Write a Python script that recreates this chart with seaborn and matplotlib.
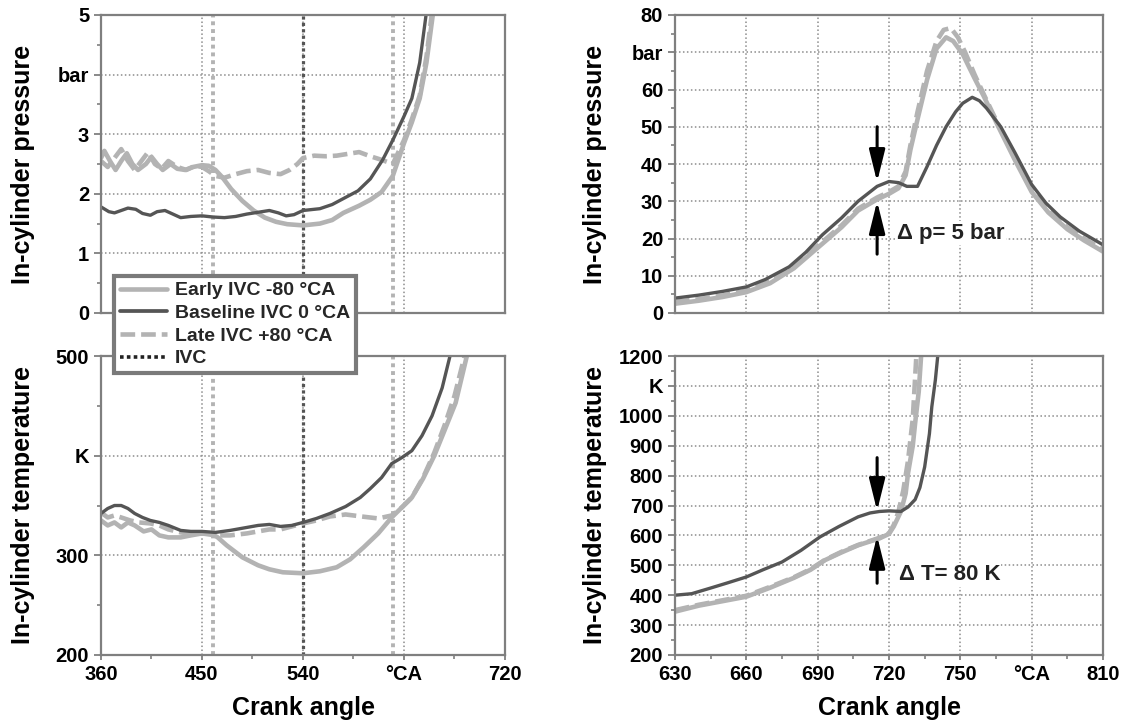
import matplotlib
matplotlib.use('Agg')
import matplotlib.pyplot as plt
import seaborn as sns
from matplotlib.ticker import FixedLocator, MultipleLocator
from matplotlib.lines import Line2D

sns.set_theme(style='white')
plt.rcParams['font.family'] = ['Liberation Sans', 'DejaVu Sans']
plt.rcParams['font.weight'] = 'bold'

# ---------------- data ----------------
series_labels = ["Early IVC -80 °CA", "Baseline IVC 0 °CA", "Late IVC +80 °CA", "IVC"]
ivc_angles = [460, 540, 620]

# top-left: in-cylinder pressure (bar), gas exchange
early_p_x = [360, 363, 368, 373, 378, 383, 388, 393, 400, 405, 410, 415, 422, 428, 435, 442, 450, 456, 462, 468,
             476, 486, 496, 506, 516, 526, 540, 555, 566, 576, 590, 600, 610, 620, 630, 637, 644, 650, 656]
early_p_y = [2.6, 2.72, 2.55, 2.4, 2.55, 2.68, 2.5, 2.4, 2.5, 2.62, 2.5, 2.4, 2.5, 2.42, 2.4, 2.45, 2.48, 2.47, 2.4, 2.28,
             2.08, 1.88, 1.72, 1.6, 1.53, 1.49, 1.47, 1.5, 1.56, 1.68, 1.8, 1.9, 2.03, 2.3, 2.85, 3.2, 3.6, 4.2, 5.05]
base_p_x = [360, 367, 372, 378, 384, 391, 397, 404, 410, 417, 424, 431, 440, 450, 460, 470, 480, 490, 500, 510,
            518, 525, 532, 540, 555, 566, 576, 589, 600, 611, 620, 630, 637, 644, 650]
base_p_y = [1.78, 1.7, 1.68, 1.72, 1.76, 1.74, 1.67, 1.64, 1.7, 1.72, 1.66, 1.6, 1.62, 1.63, 1.61, 1.6, 1.62, 1.66, 1.69, 1.72,
            1.68, 1.63, 1.65, 1.72, 1.75, 1.82, 1.92, 2.05, 2.25, 2.57, 2.9, 3.3, 3.6, 4.2, 5.05]
late_p_x = [360, 366, 372, 378, 384, 390, 396, 402, 408, 414, 420, 428, 436, 444, 450, 456, 462, 470, 480, 490,
            500, 510, 520, 528, 535, 540, 550, 560, 570, 580, 590, 600, 610, 620, 630, 637, 644, 650, 655]
late_p_y = [2.55, 2.45, 2.6, 2.75, 2.55, 2.4, 2.55, 2.7, 2.5, 2.42, 2.55, 2.45, 2.4, 2.47, 2.45, 2.38, 2.3, 2.27, 2.33, 2.38,
            2.4, 2.35, 2.33, 2.4, 2.5, 2.6, 2.64, 2.63, 2.64, 2.67, 2.7, 2.63, 2.57, 2.5, 2.9, 3.25, 3.65, 4.3, 5.05]

# bottom-left: in-cylinder temperature (K), gas exchange
early_t_x = [360, 366, 372, 378, 384, 390, 398, 405, 412, 420, 431, 440, 450, 458, 464, 472, 486, 500, 510, 522,
             540, 555, 570, 582, 594, 607, 619, 628, 637, 647, 657, 666, 676, 686]
early_t_y = [335, 330, 333, 328, 333, 330, 324, 326, 320, 318, 318, 320, 322, 322, 318, 310, 298, 290, 286, 283,
             282, 284, 288, 296, 308, 322, 338, 348, 358, 377, 400, 425, 453, 500]
base_t_x = [360, 366, 372, 378, 384, 390, 397, 404, 412, 420, 431, 440, 450, 462, 475, 490, 500, 510, 520, 530,
            540, 552, 564, 578, 591, 600, 610, 619, 628, 637, 646, 655, 664, 671]
base_t_y = [342, 347, 350, 350, 347, 342, 338, 335, 333, 330, 325, 324, 324, 323, 325, 328, 330, 331, 329, 330,
            333, 337, 342, 349, 358, 367, 378, 392, 398, 405, 420, 440, 468, 500]
late_t_x = [360, 366, 372, 378, 386, 394, 404, 412, 420, 431, 440, 450, 462, 475, 490, 500, 510, 520, 530, 540,
            552, 564, 578, 592, 607, 619, 628, 637, 647, 657, 666, 675, 684]
late_t_y = [343, 338, 340, 338, 335, 333, 332, 330, 326, 323, 322, 322, 320, 320, 322, 324, 326, 326, 329, 332,
            335, 339, 341, 339, 337, 340, 348, 358, 378, 403, 430, 460, 500]

# top-right: in-cylinder pressure (bar), combustion
early_pc_x = [630, 640, 650, 660, 670, 680, 690, 700, 707, 715, 720, 724, 727, 729, 732, 736, 740, 744, 747, 751,
              756, 760, 766, 773, 780, 787, 795, 802, 810]
early_pc_y = [2.5, 3.3, 4.3, 5.6, 8.0, 12.0, 17.5, 23.0, 27.5, 30.5, 32.0, 33.5, 37.0, 43.8, 52.0, 62.6, 71.0, 74.0, 73.0, 69.5,
              63.0, 58.0, 50.0, 41.0, 32.5, 27.0, 22.5, 19.5, 16.5]
base_pc_x = [630, 640, 650, 660, 668, 678, 685, 692, 700, 707, 715, 720, 724, 727.5, 732, 736, 740, 744, 748, 751,
             755, 758, 761, 767, 773, 780, 786, 792, 800, 810]
base_pc_y = [4.0, 4.8, 5.8, 7.0, 9.0, 12.4, 16.3, 21.0, 25.5, 30.0, 34.0, 35.3, 35.0, 34.0, 34.0, 39.3, 45.0, 50.0, 54.0, 56.3,
             57.9, 57.0, 55.0, 50.0, 43.0, 34.5, 29.5, 25.8, 22.0, 18.3]
late_pc_x = [630, 640, 650, 660, 670, 680, 690, 700, 707, 715, 720, 724, 727, 729, 732, 736, 740, 743, 746, 749,
             752, 756, 760, 766, 773, 780, 787, 795, 802, 810]
late_pc_y = [3.0, 3.7, 4.7, 6.0, 8.5, 12.5, 18.0, 23.5, 28.0, 31.0, 32.5, 34.0, 38.0, 45.0, 54.0, 65.0, 73.0, 76.0, 76.5, 74.0,
             70.0, 64.0, 58.5, 50.5, 41.5, 33.0, 27.5, 23.0, 20.0, 17.0]

# bottom-right: in-cylinder temperature (K), combustion
early_tc_x = [630, 640, 650, 660, 670, 680, 687, 693, 700, 707, 716, 720, 722, 725, 727, 728, 730, 731, 732.5, 733.5]
early_tc_y = [345, 365, 380, 395, 425, 458, 485, 517, 543, 567, 590, 605, 630, 680, 740, 808, 900, 976, 1080, 1200]
base_tc_x = [630, 637, 645, 652, 660, 667, 675, 683, 691, 699, 707, 712, 716, 720, 725, 728, 731, 733, 735, 737,
             738, 739.5, 740.5]
base_tc_y = [400, 405, 424, 441, 461, 485, 511, 550, 595, 630, 662, 675, 680, 682, 680, 695, 720, 760, 829, 940,
             1030, 1120, 1200]
late_tc_x = [630, 640, 650, 660, 670, 680, 687, 693, 700, 707, 716, 720, 722, 724, 726, 728, 730, 731.5]
late_tc_y = [350, 368, 383, 398, 428, 460, 487, 518, 545, 568, 592, 607, 635, 680, 750, 850, 990, 1200]

# annotations
dp_arrow_x = 715
dp_arrow_top = [50, 35.2]
dp_arrow_bot = [15.8, 30.0]
dt_arrow_top = [860, 682]
dt_arrow_bot = [440, 598]
dp_text = "Δ p= 5 bar"
dt_text = "Δ T= 80 K"

# ---------------- style ----------------
LIGHT = '#b3b3b3'
DARK = '#555555'
SPINE = '#7f7f7f'
GRID = '#8c8c8c'
LW_L = 3.3
LW_D = 2.4
DASH = (0, (3.2, 1.3))
TICK_FS = 14.5
LABEL_FS = 18

fig = plt.figure(figsize=(11.26, 7.23), dpi=100)
W, H = 1126, 723


def add_ax(l, r, t, b):
    return fig.add_axes([l / W, 1 - b / H, (r - l) / W, (b - t) / H])


ax_tl = add_ax(101, 505, 15, 313)
ax_bl = add_ax(101, 505, 356, 655)
ax_tr = add_ax(675, 1103, 15, 313)
ax_br = add_ax(675, 1103, 356, 655)


def draw(ax, x, y, kind):
    if kind == 'early':
        sns.lineplot(x=x, y=y, ax=ax, color=LIGHT, linewidth=LW_L, estimator=None, sort=False, legend=False)
    elif kind == 'base':
        sns.lineplot(x=x, y=y, ax=ax, color=DARK, linewidth=LW_D, estimator=None, sort=False, legend=False)
    else:
        sns.lineplot(x=x, y=y, ax=ax, color=LIGHT, linewidth=LW_L, estimator=None, sort=False, legend=False)
        ax.lines[-1].set_linestyle(DASH)


def style(ax, xlim, xmajor, xminor, xlabels, ylim, ymajor, yminor, ylabels, ylabel, xlabel, ylab_x):
    ax.set_xlim(*xlim)
    ax.set_ylim(*ylim)
    ax.xaxis.set_major_locator(FixedLocator(xmajor))
    ax.xaxis.set_minor_locator(MultipleLocator(xminor))
    ax.yaxis.set_major_locator(FixedLocator(ymajor))
    ax.yaxis.set_minor_locator(MultipleLocator(yminor))
    ax.set_yticklabels(ylabels)
    ax.grid(True, which='major', linestyle=(0, (1, 1.6)), color=GRID, linewidth=1.1)
    for s in ax.spines.values():
        s.set_color(SPINE)
        s.set_linewidth(1.6)
        s.set_zorder(5)
    ax.tick_params(axis='y', which='major', direction='out', length=5, width=1.3, color=SPINE,
                   labelsize=TICK_FS, labelcolor='black', pad=3.5, left=True)
    ax.tick_params(axis='y', which='minor', direction='out', length=3, width=1.2, color=SPINE, left=True)
    if xlabels is None:
        ax.tick_params(axis='x', which='both', length=0, labelbottom=False)
    else:
        ax.set_xticklabels(xlabels)
        ax.tick_params(axis='x', which='major', direction='out', length=3.6, width=1.3, color=SPINE,
                       labelsize=TICK_FS, labelcolor='black', pad=3.5, bottom=True)
        ax.tick_params(axis='x', which='minor', direction='out', length=3, width=1.2, color=SPINE, bottom=True)
        ax.set_xlabel(xlabel, fontsize=LABEL_FS, fontweight='bold', color='black')
        ax.xaxis.set_label_coords(0.5, -0.137)
    ax.set_ylabel(ylabel, fontsize=LABEL_FS, fontweight='bold', color='black')
    ax.yaxis.set_label_coords(ylab_x, 0.5)
    for lab in ax.get_xticklabels() + ax.get_yticklabels():
        lab.set_fontweight('bold')


def ivc_lines(ax):
    ax.axvline(ivc_angles[0], color=LIGHT, linewidth=2.8, linestyle=(0, (1, 1)), zorder=1.5)
    ax.axvline(ivc_angles[2], color=LIGHT, linewidth=2.8, linestyle=(0, (1, 1)), zorder=1.5)
    ax.axvline(ivc_angles[1], color=DARK, linewidth=2.3, linestyle=(0, (1, 1)), zorder=1.5)


# top-left
ivc_lines(ax_tl)
draw(ax_tl, late_p_x, late_p_y, 'late')
draw(ax_tl, early_p_x, early_p_y, 'early')
draw(ax_tl, base_p_x, base_p_y, 'base')
style(ax_tl, (360, 720), [360, 450, 540, 630, 720], 45, None,
      (0, 5), [0, 1, 2, 3, 4, 5], 0.5, ['0', '1', '2', '3', 'bar', '5'], 'In-cylinder pressure', None, -0.163)

# bottom-left
ivc_lines(ax_bl)
draw(ax_bl, late_t_x, late_t_y, 'late')
draw(ax_bl, early_t_x, early_t_y, 'early')
draw(ax_bl, base_t_x, base_t_y, 'base')
style(ax_bl, (360, 720), [360, 450, 540, 630, 720], 45, ['360', '450', '540', '°CA', '720'],
      (200, 500), [200, 300, 400, 500], 50, ['200', '300', 'K', '500'], 'In-cylinder temperature', 'Crank angle',
      -0.163)

# top-right
draw(ax_tr, late_pc_x, late_pc_y, 'late')
draw(ax_tr, early_pc_x, early_pc_y, 'early')
draw(ax_tr, base_pc_x, base_pc_y, 'base')
style(ax_tr, (630, 810), [630, 660, 690, 720, 750, 780, 810], 15, None,
      (0, 80), list(range(0, 81, 10)), 5, ['0', '10', '20', '30', '40', '50', '60', 'bar', '80'],
      'In-cylinder pressure', None, -0.159)

# bottom-right
draw(ax_br, late_tc_x, late_tc_y, 'late')
draw(ax_br, early_tc_x, early_tc_y, 'early')
draw(ax_br, base_tc_x, base_tc_y, 'base')
style(ax_br, (630, 810), [630, 660, 690, 720, 750, 780, 810], 15,
      ['630', '660', '690', '720', '750', '°CA', '810'],
      (200, 1200), list(range(200, 1201, 100)), 50,
      ['200', '300', '400', '500', '600', '700', '800', '900', '1000', 'K', '1200'],
      'In-cylinder temperature', 'Crank angle', -0.159)

# arrows + texts
arrow_kw = dict(arrowstyle='-|>,head_length=0.97,head_width=0.24', color='black', lw=2.2,
                mutation_scale=20, shrinkA=0, shrinkB=0)
ax_tr.annotate('', xy=(dp_arrow_x, dp_arrow_top[1]), xytext=(dp_arrow_x, dp_arrow_top[0]), arrowprops=arrow_kw, zorder=6)
ax_tr.annotate('', xy=(dp_arrow_x, dp_arrow_bot[1]), xytext=(dp_arrow_x, dp_arrow_bot[0]), arrowprops=arrow_kw, zorder=6)
ax_tr.text(723.3, 21.4, dp_text, fontsize=16, fontweight='bold', ha='left', va='center', color='#222222',
           bbox=dict(facecolor='white', edgecolor='none', pad=1))
ax_br.annotate('', xy=(dp_arrow_x, dt_arrow_top[1]), xytext=(dp_arrow_x, dt_arrow_top[0]), arrowprops=arrow_kw, zorder=6)
ax_br.annotate('', xy=(dp_arrow_x, dt_arrow_bot[1]), xytext=(dp_arrow_x, dt_arrow_bot[0]), arrowprops=arrow_kw, zorder=6)
ax_br.text(724, 468, dt_text, fontsize=16, fontweight='bold', ha='left', va='center', color='#222222',
           bbox=dict(facecolor='white', edgecolor='none', pad=1))

# legend
handles = [
    Line2D([], [], color=LIGHT, linewidth=LW_L),
    Line2D([], [], color=DARK, linewidth=LW_D + 0.3),
    Line2D([], [], color=LIGHT, linewidth=LW_L, linestyle=DASH),
    Line2D([], [], color='#222222', linewidth=2.6, linestyle=(0, (1, 0.9))),
]
leg = fig.legend(handles, series_labels, loc='upper left', bbox_to_anchor=(114 / W, 1 - 276 / H),
                 frameon=True, fancybox=False, edgecolor='#7a7a7a', framealpha=1, facecolor='white',
                 prop=dict(weight='bold', size=14), handlelength=2.45, handletextpad=0.4,
                 labelspacing=0.26, borderpad=0.3, borderaxespad=0)
leg.get_frame().set_linewidth(3)

fig.savefig('out.png', dpi=100, facecolor='white')
